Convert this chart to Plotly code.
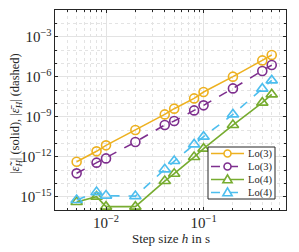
import plotly.graph_objects as go
import numpy as np

h = [0.005, 0.008, 0.01, 0.02, 0.04, 0.05, 0.08, 0.1, 0.2, 0.4, 0.5]
lo3_solid_exp = [-12.38, -11.6, -11.15, -10.0, -8.83, -8.4, -7.63, -7.15, -6.0, -4.78, -4.38]
lo3_dashed_exp = [-13.25, -12.45, -12.13, -10.9, -9.63, -9.33, -8.53, -8.15, -6.88, -5.58, -5.13]
lo4_solid_exp = [-15.4, -15.0, -15.75, -15.75, -13.83, -13.28, -12.03, -11.4, -9.63, -7.95, -7.33]
lo4_dashed_exp = [-15.25, -14.66, -14.92, -14.96, -12.95, -12.33, -11.08, -10.5, -8.83, -6.9, -6.28]

names = ["Lo(3)", "Lo(3)", "Lo(4)", "Lo(4)"]
colors = ["#EDB120", "#7E2F8E", "#77AC30", "#4DBEEE"]
series = [lo3_solid_exp, lo3_dashed_exp, lo4_solid_exp, lo4_dashed_exp]
dashes = ["solid", "dash", "solid", "dash"]
symbols = ["circle-open", "circle-open", "triangle-up-open", "triangle-up-open"]
sizes = [9, 9, 10, 10]

FONT = "'Liberation Serif', 'DejaVu Serif', serif"
INK = "#262626"

# page body has an 8px default margin, so the figure is offset by 8px
OFF = 8
# plot area wanted in window pixels
PL, PR, PT, PB = 55, 286, 10, 210
W, H = 299 - OFF, 252 - OFF
ML, MT = PL - OFF, PT - OFF
MR, MB = W - (PR - OFF), H - (PB - OFF)
PW, PH = PR - PL, PB - PT


def px(xw):
    return (xw - PL) / PW


def py(yw):
    return (PB - yw) / PH


fig = go.Figure()
for name, col, ys, d, sym, sz in zip(names, colors, series, dashes, symbols, sizes):
    fig.add_trace(go.Scatter(
        x=h, y=[10 ** v for v in ys], name=name, mode="lines+markers",
        line=dict(color=col, width=1.6, dash=d),
        marker=dict(symbol=sym, size=sz, color=col, line=dict(width=1.6, color=col)),
        showlegend=False,
    ))

# ---- compact legend (box, key glyphs, labels) in paper coordinates ----
LEG_X0, LEG_X1, LEG_Y0, LEG_Y1 = 208, 275, 147, 199
row_h = (LEG_Y1 - LEG_Y0) / len(names)
fig.add_shape(type="rect", xref="paper", yref="paper",
              x0=px(LEG_X0), x1=px(LEG_X1), y0=py(LEG_Y1), y1=py(LEG_Y0),
              line=dict(color=INK, width=1), fillcolor="white", layer="above")
for i, (name, col, d, sym) in enumerate(zip(names, colors, dashes, symbols)):
    yc = LEG_Y0 + row_h * (i + 0.5)
    xm = 227.5
    fig.add_shape(type="line", xref="paper", yref="paper",
                  x0=px(211), x1=px(244), y0=py(yc), y1=py(yc),
                  line=dict(color=col, width=1.6, dash=d), layer="above")
    if sym.startswith("circle"):
        r = 3.5
        fig.add_shape(type="circle", xref="paper", yref="paper",
                      x0=px(xm - r), x1=px(xm + r), y0=py(yc + r), y1=py(yc - r),
                      line=dict(color=col, width=1.6), fillcolor="white", layer="above")
    else:
        s = 4.6
        path = "M {:.4f},{:.4f} L {:.4f},{:.4f} L {:.4f},{:.4f} Z".format(
            px(xm - s), py(yc + s * 0.72), px(xm + s), py(yc + s * 0.72), px(xm), py(yc - s * 1.0))
        fig.add_shape(type="path", xref="paper", yref="paper", path=path,
                      line=dict(color=col, width=1.6), fillcolor="white", layer="above")
    fig.add_annotation(x=px(246), y=py(yc), xref="paper", yref="paper", text=name, showarrow=False,
                       xanchor="left", yanchor="middle",
                       font=dict(family=FONT, size=10.5, color=INK))

# axis titles
fig.add_annotation(x=0.5, y=py(238), xref="paper", yref="paper", showarrow=False,
                   text="Step size <i>h</i> in s", xanchor="center", yanchor="middle",
                   font=dict(family=FONT, size=13, color=INK))
fig.add_annotation(x=px(16), y=py(114), xref="paper", yref="paper", showarrow=False, textangle=-90,
                   text="|<i>ε̃</i><sub><i>H</i></sub>| (solid), |<i>ε̄</i><sub><i>H</i></sub>| (dashed)",
                   xanchor="center", yanchor="middle",
                   font=dict(family=FONT, size=12.5, color=INK))

axis_common = dict(
    type="log", showline=True, linecolor=INK, linewidth=1, mirror="allticks",
    ticks="inside", ticklen=3, tickcolor=INK,
    showgrid=True, gridcolor="#e3e3e3", gridwidth=1,
    exponentformat="power", zeroline=False, automargin=False,
    tickfont=dict(family=FONT, size=12, color=INK),
)

fig.update_layout(
    xaxis=dict(**axis_common, range=[np.log10(0.003), np.log10(0.7)], dtick=1,
               minor=dict(ticks="inside", ticklen=2, tickcolor=INK, showgrid=True,
                          gridcolor="#e3e3e3", griddash="dot", dtick="D1")),
    yaxis=dict(**axis_common, range=[-16, -1], dtick=3,
               minor=dict(ticks="inside", ticklen=2, tickcolor=INK, showgrid=True,
                          gridcolor="#e3e3e3", griddash="dot", dtick=1)),
    width=W, height=H,
    margin=dict(l=ML, r=MR, t=MT, b=MB),
    paper_bgcolor="white", plot_bgcolor="white",
    font=dict(family=FONT, size=11, color=INK),
    showlegend=False,
)

fig.write_html("out.html")
